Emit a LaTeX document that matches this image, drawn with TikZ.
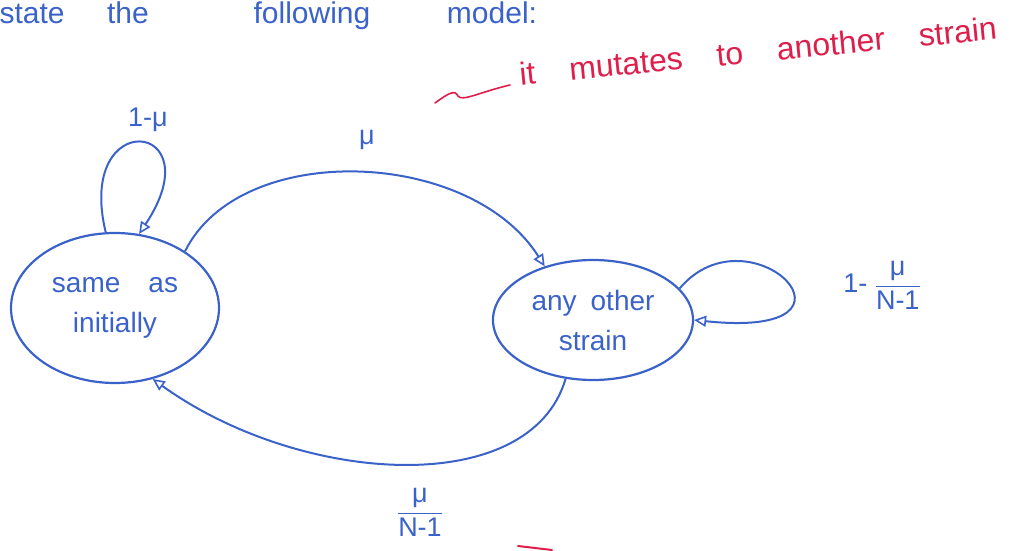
\documentclass[tikz,border=0pt]{standalone}
\usepackage{fontspec}
\setmainfont{Liberation Sans}
\usetikzlibrary{shapes.geometric,arrows.meta}
\definecolor{pen}{RGB}{58,98,200}
\definecolor{redpen}{RGB}{222,30,75}
\tikzset{
  state/.style={ellipse,draw=pen,line width=2.2pt,inner sep=0pt,align=center,text=pen,font=\fontsize{28}{40}\selectfont},
  edge/.style={draw=pen,line width=2pt,-{Triangle[open,length=12pt,width=11pt,line width=1.6pt]}},
  lbl/.style={text=pen,font=\fontsize{27}{30}\selectfont},
  note/.style={text=redpen,font=\fontsize{32}{36}\selectfont},
  head/.style={text=pen,font=\fontsize{30}{34}\selectfont,anchor=base}
}
\newcommand{\pfrac}[2]{$\displaystyle\frac{\mbox{#1}}{\mbox{#2}}$}
\begin{document}
\begin{tikzpicture}[x=1pt,y=-1pt]
\useasboundingbox (0,0) rectangle (1010,551);
% heading words (partly cut at the top)
\node[head,anchor=base west] (w1) at (-4,24) {state};
\node[head] (w2) at (128,24) {the};
\node[head] (w3) at (312,24) {following};
\node[head] (w4) at (492,24) {model:};
% states
\node[state,minimum width=208pt,minimum height=150pt] (L) at (115,308) {same\quad as\\ initially};
\node[state,minimum width=200pt,minimum height=120pt] (R) at (593,320) {any\enspace other\\ strain};
% self loop left
\draw[edge] (L.97) .. controls (75,105) and (215,120) .. (L.72);
\node[lbl] (l1) at (148,120) {1-μ};
% top arc
\draw[edge] (L.39) .. controls (240,140) and (470,148) .. (R.132);
\node[lbl] (l2) at (367,140) {μ};
% right loop
\draw[edge] (R.20) .. controls (750,205) and (885,340) .. (R.0);
\node[lbl] (l3) at (882,285) {1- \pfrac{μ}{N-1}};
% bottom arc
\draw[edge] (R.-115) .. controls (530,500) and (300,485) .. (L.-62);
\node[lbl] (l4) at (420,512) {\pfrac{μ}{N-1}};
% red note
\draw[redpen,line width=1.6pt,line cap=round] (435,103) .. controls (450,92) and (455,90) .. (458,96) .. controls (462,102) and (480,92) .. (510,85);
\node[note,rotate=5.5,anchor=west] (n1) at (516,74) {it\hspace{34pt}mutates\hspace{34pt}to\hspace{34pt}another\hspace{34pt}strain};
\draw[redpen,line width=2pt,line cap=round] (518,546) -- (552,550);
\end{tikzpicture}
\end{document}
